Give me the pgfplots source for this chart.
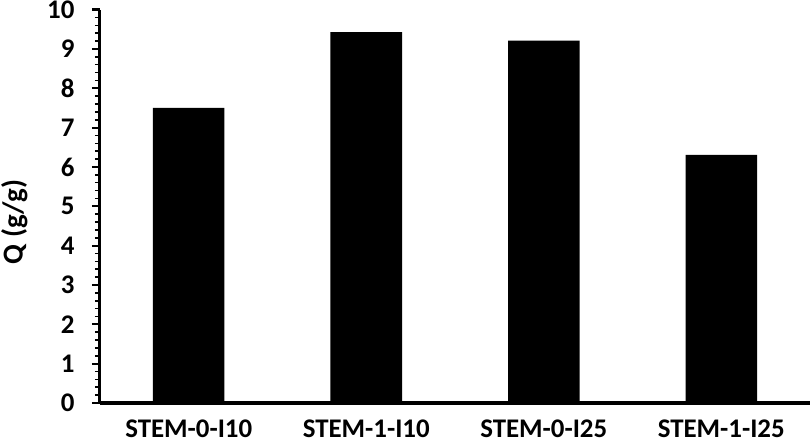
\documentclass[border=0pt]{standalone}
\usepackage{pgfplots}
\pgfplotsset{compat=1.18}
\usepackage{fontspec}
\setmainfont{Carlito}
\begin{document}
\begin{tikzpicture}
\path[use as bounding box] (-100bp,-41bp) rectangle (712bp,403bp);
\begin{axis}[
  scale only axis,
  width=710bp, height=393.4bp,
  xmin=-0.5, xmax=3.5, ymin=0, ymax=10,
  axis x line*=bottom, axis y line*=left,
  axis line style={line width=3bp},
  ybar, bar width=71.5bp,
  xtick=data,
  xticklabels={STEM-0-I10,STEM-1-I10,STEM-0-I25,STEM-1-I25},
  x tick style={draw=none},
  ytick={0,1,...,10},
  minor y tick num=4,
  tickpos=left,
  ytick align=outside,
  major tick length=8bp, minor tick length=5bp,
  every major tick/.append style={line width=2.2bp, black},
  every minor tick/.append style={line width=1.6bp, black},
  tick label style={font=\bfseries\fontsize{27}{32}\selectfont},
  /pgf/number format/assume math mode=true,
  yticklabel style={xshift=-14bp},
  xticklabel style={anchor=base, inner sep=0pt, yshift=-26bp},
  ylabel={\bfseries\fontsize{29}{34}\selectfont Q (g/g)},
  every axis y label/.style={at={(axis description cs:-0.1394,0.46)}, rotate=90, anchor=north, inner sep=0pt},
  clip=false,
]
\addplot[fill=black, draw=none] coordinates {(0,7.50) (1,9.43) (2,9.21) (3,6.31)};
\end{axis}
\end{tikzpicture}
\end{document}
